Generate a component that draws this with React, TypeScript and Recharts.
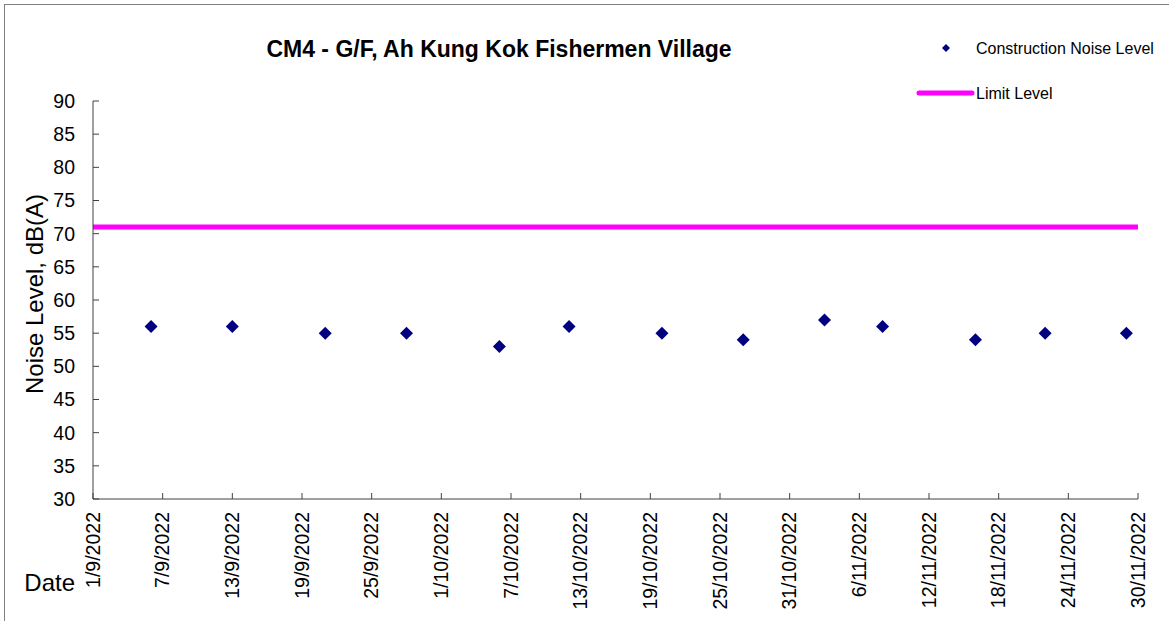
import {
  ScatterChart,
  Scatter,
  XAxis,
  YAxis,
  ReferenceLine,
  Legend,
} from "recharts";

// values
const TICK_LABELS = [
  "1/9/2022",
  "7/9/2022",
  "13/9/2022",
  "19/9/2022",
  "25/9/2022",
  "1/10/2022",
  "7/10/2022",
  "13/10/2022",
  "19/10/2022",
  "25/10/2022",
  "31/10/2022",
  "6/11/2022",
  "12/11/2022",
  "18/11/2022",
  "24/11/2022",
  "30/11/2022",
];
const MEASURE_DATES = [
  "6/9/2022",
  "13/9/2022",
  "21/9/2022",
  "28/9/2022",
  "6/10/2022",
  "12/10/2022",
  "20/10/2022",
  "27/10/2022",
  "3/11/2022",
  "8/11/2022",
  "16/11/2022",
  "22/11/2022",
  "29/11/2022",
];
const NOISE_LEVELS = [56, 56, 55, 55, 53, 56, 55, 54, 57, 56, 54, 55, 55];
const LIMIT_LEVEL = 71;
const Y_TICKS = [30, 35, 40, 45, 50, 55, 60, 65, 70, 75, 80, 85, 90];

const SERIES_NAME = "Construction Noise Level";
const LIMIT_NAME = "Limit Level";
const TITLE = "CM4 - G/F, Ah Kung Kok Fishermen Village";

const FONT = "'Liberation Sans', Arial, sans-serif";
const NAVY = "#000080";
const MAGENTA = "#ff00ff";
const AXIS = "#404040";

const parseDate = (s: string) => {
  const [d, m, y] = s.split("/").map(Number);
  return Date.UTC(y, m - 1, d);
};
const formatDate = (v: number) => {
  const d = new Date(v);
  return `${d.getUTCDate()}/${d.getUTCMonth() + 1}/${d.getUTCFullYear()}`;
};

const xTicks = TICK_LABELS.map(parseDate);
const data = MEASURE_DATES.map((s, i) => ({ x: parseDate(s), y: NOISE_LEVELS[i] }));

const Diamond = (props: any) => {
  const { cx, cy } = props;
  const r = 6.5;
  return (
    <path
      d={`M${cx},${cy - r} L${cx + r},${cy} L${cx},${cy + r} L${cx - r},${cy} Z`}
      fill={NAVY}
    />
  );
};

const DateTick = (props: any) => {
  const { x, y, payload } = props;
  return (
    <text
      x={x}
      y={y}
      transform={`rotate(-90, ${x}, ${y})`}
      textAnchor="end"
      dy="0.35em"
      fontFamily={FONT}
      fontSize={19.5}
      fill="#000"
    >
      {formatDate(payload.value)}
    </text>
  );
};

const LegendBox = () => (
  <svg width={250} height={75}>
    <path d="M34,10 L38,14 L34,18 L30,14 Z" fill={NAVY} />
    <text x={64} y={14} dy="0.35em" fontFamily={FONT} fontSize={16} fill="#000">
      {SERIES_NAME}
    </text>
    <line x1={7} x2={60} y1={59} y2={59} stroke={MAGENTA} strokeWidth={5} strokeLinecap="round" />
    <text x={64} y={59} dy="0.35em" fontFamily={FONT} fontSize={16} fill="#000">
      {LIMIT_NAME}
    </text>
  </svg>
);

export default function App() {
  return (
    <div
      style={{
        position: "absolute",
        left: 0,
        top: 0,
        width: 1169,
        height: 621,
        overflow: "hidden",
        background: "#fff",
      }}
    >
      {/* outer frame, cut off on the right and bottom like the reference */}
      <div
        style={{
          position: "absolute",
          left: 4,
          top: 4,
          width: 2000,
          height: 2000,
          border: "1px solid #808080",
        }}
      />
      <ScatterChart
        width={1169}
        height={621}
        margin={{ top: 101, right: 31, bottom: 0, left: 0 }}
      >
        <text
          x={499}
          y={57}
          textAnchor="middle"
          fontFamily={FONT}
          fontSize={23}
          fontWeight="bold"
          fill="#000"
        >
          {TITLE}
        </text>
        <XAxis
          type="number"
          dataKey="x"
          domain={[xTicks[0], xTicks[xTicks.length - 1]]}
          ticks={xTicks}
          interval={0}
          height={122}
          tickSize={-6}
          tickMargin={19}
          tick={<DateTick />}
          axisLine={{ stroke: AXIS }}
          tickLine={{ stroke: AXIS }}
          label={{
            content: ({ viewBox }: any) => (
              <text
                x={viewBox.x - 18}
                y={viewBox.y + 92}
                textAnchor="end"
                fontFamily={FONT}
                fontSize={24}
                fill="#000"
              >
                Date
              </text>
            ),
          }}
        />
        <YAxis
          type="number"
          dataKey="y"
          domain={[30, 90]}
          ticks={Y_TICKS}
          interval={0}
          width={93}
          tickSize={-6}
          tickMargin={24}
          tick={{ fill: "#000", fontSize: 19.5, fontFamily: FONT }}
          axisLine={{ stroke: AXIS }}
          tickLine={{ stroke: AXIS }}
          label={{
            content: ({ viewBox }: any) => {
              const lx = viewBox.x + 43;
              const ly = viewBox.y + viewBox.height / 2 - 6;
              return (
                <text
                  x={lx}
                  y={ly}
                  transform={`rotate(-90, ${lx}, ${ly})`}
                  textAnchor="middle"
                  fontFamily={FONT}
                  fontSize={24}
                  fill="#000"
                >
                  Noise Level, dB(A)
                </text>
              );
            },
          }}
        />
        <ReferenceLine y={LIMIT_LEVEL} stroke={MAGENTA} strokeWidth={5} />
        <Scatter
          name={SERIES_NAME}
          data={data}
          fill={NAVY}
          shape={<Diamond />}
          isAnimationActive={false}
        />
        <Legend
          layout="vertical"
          align="center"
          verticalAlign="middle"
          content={<LegendBox />}
          wrapperStyle={{ position: "absolute", left: 912, top: 34, width: 250, height: 75 }}
        />
      </ScatterChart>
    </div>
  );
}
